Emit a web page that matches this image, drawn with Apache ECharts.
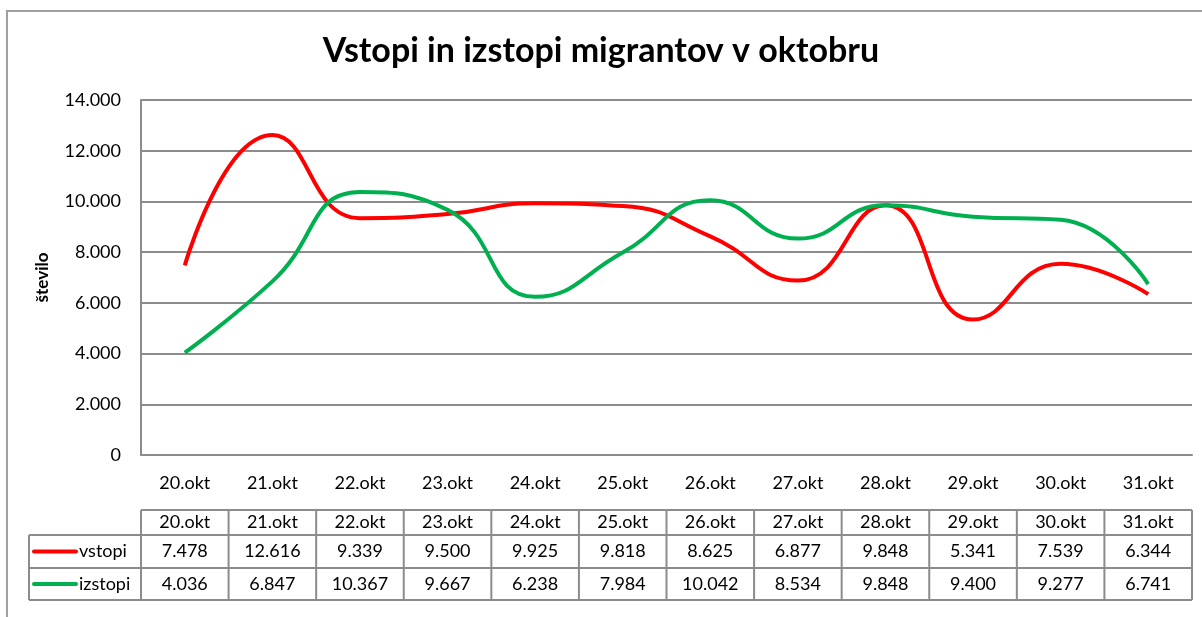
<!DOCTYPE html>
<html>
<head>
<meta charset="utf-8">
<script src="https://cdn.jsdelivr.net/npm/echarts@6/dist/echarts.min.js"></script>
<style>
    html, body { margin: 0; padding: 0; background: #fff; }
    #chart { width: 1202px; height: 617px; }
</style>
</head>
<body>
<div id="chart"></div>
<script>
var days = ['20.okt', '21.okt', '22.okt', '23.okt', '24.okt', '25.okt',
            '26.okt', '27.okt', '28.okt', '29.okt', '30.okt', '31.okt'];
var vstopi = [7478, 12616, 9339, 9500, 9925, 9818, 8625, 6877, 9848, 5341, 7539, 6344];
var izstopi = [4036, 6847, 10367, 9667, 6238, 7984, 10042, 8534, 9848, 9400, 9277, 6741];
var yTicks = [0, 2000, 4000, 6000, 8000, 10000, 12000, 14000];

var FONT = 'Lato';
var GRID_COLOR = '#8c8c8c';

// 14000 -> "14.000"
function fmt(v) {
    return String(v).replace(/\B(?=(\d{3})+(?!\d))/g, '.');
}

var chart = echarts.init(document.getElementById('chart'));

var option = {
    animation: false,
    backgroundColor: '#fff',
    color: ['#ff0000', '#00b050'],
    title: {
        text: 'Vstopi in izstopi migrantov v oktobru',
        left: 'center',
        top: 29,
        textStyle: { fontFamily: FONT, fontSize: 34, fontWeight: 'bold', color: '#000' }
    },
    grid: { left: 141, right: 10, top: 100, bottom: 162 },
    xAxis: {
        type: 'category',
        data: days,
        boundaryGap: true,
        axisLine: { lineStyle: { color: GRID_COLOR, width: 2 } },
        axisTick: { show: false },
        axisLabel: { margin: 19, fontFamily: FONT, fontSize: 18, color: '#000' }
    },
    yAxis: {
        type: 'value',
        min: yTicks[0],
        max: yTicks[yTicks.length - 1],
        interval: 2000,
        name: 'število',
        nameLocation: 'middle',
        nameGap: 90,
        nameRotate: 90,
        nameTextStyle: { fontFamily: FONT, fontSize: 17, fontWeight: 'bold', color: '#000' },
        axisLine: { show: true, lineStyle: { color: GRID_COLOR, width: 2 } },
        axisTick: { show: false },
        splitLine: { lineStyle: { color: GRID_COLOR, width: 2 } },
        axisLabel: {
            margin: 20, fontFamily: FONT, fontSize: 18, color: '#000',
            formatter: function (v) { return fmt(v); }
        }
    },
    series: [
        {
            name: 'vstopi', type: 'line', data: vstopi, smooth: 0.5,
            symbol: 'none', lineStyle: { width: 4, color: '#ff0000' }
        },
        {
            name: 'izstopi', type: 'line', data: izstopi, smooth: 0.5,
            symbol: 'none', lineStyle: { width: 4, color: '#00b050' }
        }
    ]
};
chart.setOption(option);

// data table under the chart, columns aligned to the category axis
var rowTops = [510, 535, 568, 600];
var tableLeft = 29;
var colW = chart.convertToPixel({ xAxisIndex: 0 }, days[1]) - chart.convertToPixel({ xAxisIndex: 0 }, days[0]);
var firstCol = chart.convertToPixel({ xAxisIndex: 0 }, days[0]) - colW / 2;
var lastCol = firstCol + colW * days.length;
var lineStyle = { stroke: GRID_COLOR, lineWidth: 2 };
var textStyle = { fontFamily: FONT, fontSize: 18, fill: '#000' };

var elements = [];
// frame around the whole chart
elements.push({ type: 'rect', shape: { x: 7, y: 11, width: 1300, height: 700 },
    style: { fill: null, stroke: '#a0a0a0', lineWidth: 2 }, silent: true });

// horizontal lines
elements.push({ type: 'line', shape: { x1: firstCol, y1: rowTops[0], x2: lastCol, y2: rowTops[0] }, style: lineStyle });
for (var r = 1; r < rowTops.length; r++) {
    elements.push({ type: 'line', shape: { x1: tableLeft, y1: rowTops[r], x2: lastCol, y2: rowTops[r] }, style: lineStyle });
}
// vertical lines
elements.push({ type: 'line', shape: { x1: tableLeft, y1: rowTops[1], x2: tableLeft, y2: rowTops[3] }, style: lineStyle });
for (var c = 0; c <= days.length; c++) {
    var cx = firstCol + c * colW;
    elements.push({ type: 'line', shape: { x1: cx, y1: rowTops[0], x2: cx, y2: rowTops[3] }, style: lineStyle });
}

var rows = [
    { values: days.map(function (d) { return d; }) },
    { name: 'vstopi', color: '#ff0000', values: vstopi.map(fmt) },
    { name: 'izstopi', color: '#00b050', values: izstopi.map(fmt) }
];
rows.forEach(function (row, i) {
    var cy = (rowTops[i] + rowTops[i + 1]) / 2;
    row.values.forEach(function (txt, j) {
        var x = chart.convertToPixel({ xAxisIndex: 0 }, days[j]);
        elements.push({ type: 'text', x: x, y: cy,
            style: Object.assign({ text: txt, align: 'center', verticalAlign: 'middle' }, textStyle) });
    });
    if (row.name) {
        elements.push({ type: 'line', shape: { x1: 34, y1: cy, x2: 76, y2: cy },
            style: { stroke: row.color, lineWidth: 4, lineCap: 'round' } });
        elements.push({ type: 'text', x: 79, y: cy,
            style: Object.assign({ text: row.name, align: 'left', verticalAlign: 'middle' }, textStyle) });
    }
});

chart.setOption({ graphic: { elements: elements } });
</script>
</body>
</html>
